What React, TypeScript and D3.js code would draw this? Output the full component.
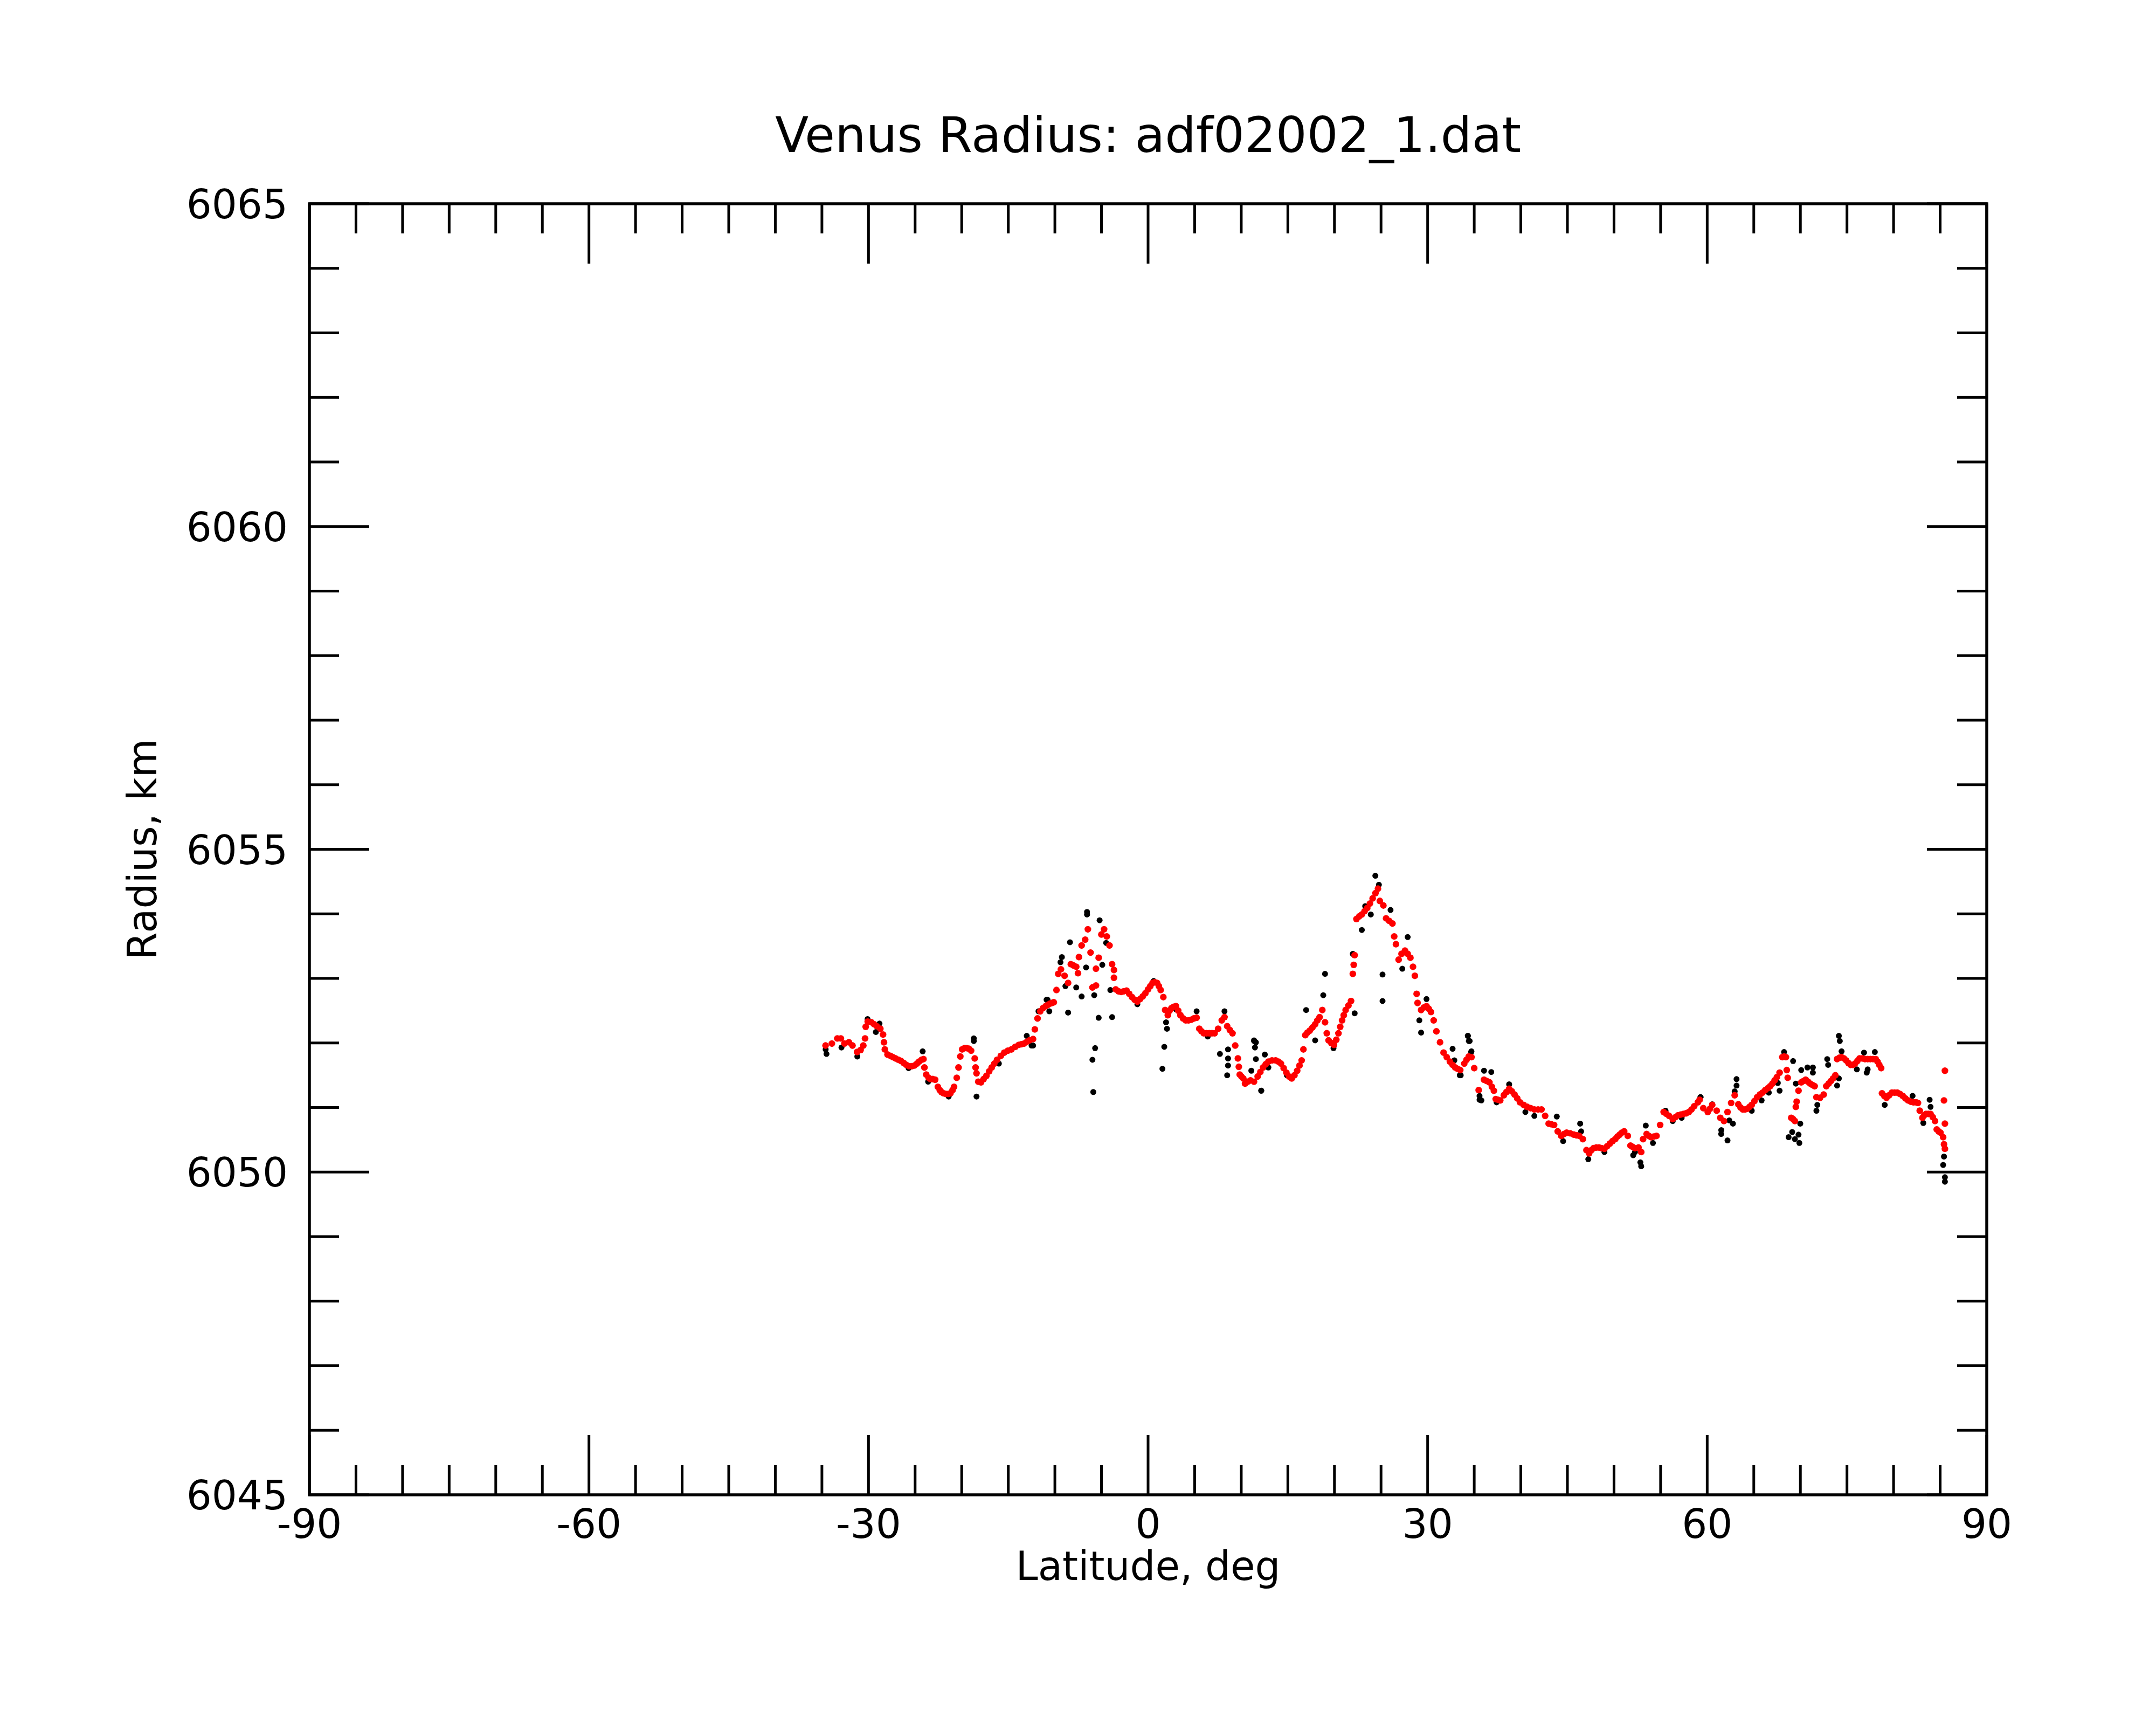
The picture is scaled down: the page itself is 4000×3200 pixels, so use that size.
import React from "react";
import * as d3 from "d3";

const TITLE = "Venus Radius: adf02002_1.dat";
const X_LABEL = "Latitude, deg";
const Y_LABEL = "Radius, km";
const X_DOMAIN = [-90, 90];
const Y_DOMAIN = [6045, 6065];
const X_MAJOR = [-90, -60, -30, 0, 30, 60, 90];
const Y_MAJOR = [6045, 6050, 6055, 6060, 6065];
const X_MINOR_STEP = 5;
const Y_MINOR_STEP = 1;

// smoothed radius (red)
const smoothed: [number, number][] = [
  [-34.61,6051.96],[-33.93,6051.99],[-33.35,6052.07],[-32.97,6052.07],[-32.58,6051.99],[-32.10,6052.01],[-31.72,6051.96],[-31.23,6051.86],[-30.85,6051.89],[-30.56,6051.96],[-30.37,6052.07],[-30.30,6052.25],[-30.08,6052.33],[-29.69,6052.32],[-29.40,6052.29],[-29.12,6052.26],[-28.73,6052.22],[-28.44,6052.13],[-28.34,6052.01],[-28.25,6051.90],[-27.96,6051.82],[-27.65,6051.80],[-27.38,6051.78],[-27.10,6051.76],[-26.80,6051.74],[-26.50,6051.72],[-26.22,6051.69],[-25.95,6051.66],[-25.65,6051.64],[-25.35,6051.64],[-25.07,6051.65],[-24.80,6051.68],[-24.58,6051.71],[-24.30,6051.74],[-24.10,6051.75],[-24.00,6051.62],[-23.81,6051.51],[-23.55,6051.46],[-23.33,6051.44],[-23.10,6051.44],[-22.85,6051.43],[-22.56,6051.32],[-22.35,6051.27],[-22.17,6051.24],[-21.95,6051.22],[-21.69,6051.21],[-21.45,6051.21],[-21.21,6051.22],[-20.98,6051.27],[-20.82,6051.32],[-20.53,6051.46],[-20.34,6051.62],[-20.15,6051.79],[-19.95,6051.90],[-19.70,6051.92],[-19.47,6051.92],[-19.22,6051.91],[-18.99,6051.88],[-18.60,6051.76],[-18.51,6051.62],[-18.41,6051.53],[-18.22,6051.40],[-17.93,6051.39],[-17.65,6051.44],[-17.35,6051.49],[-17.05,6051.56],[-16.78,6051.62],[-16.50,6051.68],[-16.20,6051.74],[-15.80,6051.80],[-15.43,6051.85],[-15.05,6051.88],[-14.66,6051.90],[-14.25,6051.94],[-13.88,6051.97],[-13.60,6051.98],[-13.31,6051.99],[-13.00,6052.02],[-12.73,6052.04],[-12.34,6052.06],[-12.15,6052.21],[-11.86,6052.38],[-11.57,6052.49],[-11.28,6052.54],[-10.99,6052.57],[-10.75,6052.59],[-10.51,6052.61],[-10.30,6052.62],
  [-10.12,6052.63],[-9.83,6052.82],[-9.64,6053.07],[-9.35,6053.14],[-8.96,6053.04],[-8.58,6052.93],[-8.29,6053.22],[-8.00,6053.20],[-7.71,6053.18],[-7.52,6053.08],[-7.42,6053.33],[-7.13,6053.51],[-6.75,6053.60],[-6.46,6053.76],[-6.17,6053.40],[-5.97,6052.86],[-5.59,6052.89],[-5.59,6053.15],[-5.30,6053.32],[-5.01,6053.68],[-4.72,6053.76],[-4.43,6053.65],[-4.14,6053.51],[-3.86,6053.22],[-3.66,6053.13],[-3.66,6053.01],[-3.47,6052.83],[-3.18,6052.80],[-2.89,6052.79],[-2.60,6052.80],[-2.31,6052.81],[-2.02,6052.76],[-1.73,6052.71],[-1.44,6052.67],[-1.15,6052.64],[-0.86,6052.68],[-0.58,6052.72],[-0.29,6052.77],[0.00,6052.83],[0.24,6052.88],[0.48,6052.93],[0.72,6052.94],[0.97,6052.93],[1.16,6052.88],[1.35,6052.82],[1.64,6052.71],[1.83,6052.51],[2.12,6052.43],[2.31,6052.50],[2.51,6052.54],[2.75,6052.56],[2.99,6052.57],[3.23,6052.50],[3.47,6052.43],[3.76,6052.38],[4.05,6052.35],[4.34,6052.35],[4.63,6052.36],[4.92,6052.38],[5.21,6052.39],[5.50,6052.22],[5.74,6052.18],[5.98,6052.15],[6.27,6052.15],[6.56,6052.15],[6.85,6052.15],[7.14,6052.15],[7.52,6052.22],[7.91,6052.35],[8.20,6052.40],[8.49,6052.26],[8.78,6052.20],[9.06,6052.15],[9.35,6051.96],[9.64,6051.76],[9.74,6051.63],[9.84,6051.51],
  [10.02,6051.48],[10.22,6051.45],[10.41,6051.37],[10.70,6051.40],[10.99,6051.42],[11.37,6051.40],[11.76,6051.48],[12.05,6051.55],[12.34,6051.62],[12.62,6051.67],[12.91,6051.71],[13.30,6051.73],[13.69,6051.73],[13.98,6051.71],[14.26,6051.68],[14.55,6051.61],[14.84,6051.54],[15.13,6051.48],[15.42,6051.45],[15.71,6051.50],[16.00,6051.57],[16.25,6051.65],[16.48,6051.73],[16.67,6051.90],[16.87,6052.12],[17.10,6052.16],[17.35,6052.19],[17.64,6052.24],[17.93,6052.29],[18.17,6052.35],[18.41,6052.40],[18.70,6052.51],[18.99,6052.32],[19.18,6052.15],[19.37,6052.04],[19.66,6052.00],[19.95,6051.97],[20.20,6052.05],[20.43,6052.15],[20.62,6052.25],[20.82,6052.35],[21.00,6052.43],[21.20,6052.51],[21.50,6052.58],[21.78,6052.65],[21.97,6053.07],[22.07,6053.21],[22.17,6053.36],[22.36,6053.92],[22.65,6053.96],[22.94,6053.99],[23.23,6054.04],[23.52,6054.09],[23.81,6054.16],[24.10,6054.24],[24.40,6054.32],[24.67,6054.39],[24.87,6054.20],[25.25,6054.13],[25.54,6053.93],[25.88,6053.89],[26.22,6053.85],[26.41,6053.65],[26.60,6053.53],[26.89,6053.29],[27.20,6053.38],[27.57,6053.43],[27.86,6053.38],[28.15,6053.32],[28.43,6053.18],[28.63,6053.04],[28.82,6052.76],[28.92,6052.62],[29.30,6052.51],[29.60,6052.55],[29.88,6052.57],[30.12,6052.53],[30.36,6052.48],[30.65,6052.35],[30.94,6052.18],[31.33,6052.01],[31.71,6051.85],[32.05,6051.78],[32.39,6051.71],[32.68,6051.66],[32.96,6051.62],[33.20,6051.60],
  [33.50,6051.58],[33.93,6051.68],[34.18,6051.74],[34.42,6051.79],[34.71,6051.78],[35.00,6051.61],[35.48,6051.27],[36.05,6051.43],[36.34,6051.41],[36.63,6051.39],[36.90,6051.32],[37.11,6051.26],[37.31,6051.13],[37.55,6051.12],[37.79,6051.11],[38.18,6051.19],[38.45,6051.24],[38.75,6051.29],[39.04,6051.25],[39.33,6051.20],[39.62,6051.14],[39.91,6051.08],[40.30,6051.04],[40.68,6051.01],[41.05,6050.99],[41.45,6050.97],[41.85,6050.97],[42.22,6050.97],[42.61,6050.87],[42.99,6050.75],[43.28,6050.74],[43.57,6050.73],[43.96,6050.63],[44.34,6050.56],[44.63,6050.59],[44.92,6050.61],[45.30,6050.60],[45.69,6050.58],[45.98,6050.57],[46.27,6050.56],[46.66,6050.51],[47.04,6050.34],[47.33,6050.29],[47.57,6050.34],[47.81,6050.37],[48.10,6050.38],[48.39,6050.38],[48.68,6050.37],[48.97,6050.36],[49.26,6050.40],[49.55,6050.44],[49.84,6050.48],[50.13,6050.51],[50.37,6050.55],[50.61,6050.58],[50.85,6050.61],[51.09,6050.63],[51.48,6050.56],[51.77,6050.41],[52.00,6050.39],[52.25,6050.37],[52.63,6050.38],[52.92,6050.31],[53.12,6050.51],[53.50,6050.59],[53.74,6050.56],[53.98,6050.54],[54.27,6050.55],[54.56,6050.56],[54.95,6050.73],[55.33,6050.93],[55.62,6050.90],[55.91,6050.87],[56.30,6050.82],[56.59,6050.85],[56.88,6050.88],[57.16,6050.89],[57.45,6050.90],[57.74,6050.91],[58.03,6050.93],[58.32,6050.97],[58.61,6051.02],[59.00,6051.08],
  [59.19,6051.12],[59.58,6050.99],[60.06,6050.93],[60.30,6050.98],[60.54,6051.04],[61.02,6050.95],[61.41,6050.84],[61.80,6050.79],[62.18,6050.93],[62.57,6051.07],[62.95,6051.19],[63.34,6051.05],[63.58,6051.00],[63.82,6050.97],[64.06,6050.97],[64.30,6050.98],[64.54,6051.01],[64.78,6051.04],[65.07,6051.10],[65.36,6051.16],[65.65,6051.20],[65.94,6051.23],[66.23,6051.27],[66.52,6051.30],[66.76,6051.33],[67.00,6051.37],[67.24,6051.42],[67.48,6051.47],[67.77,6051.54],[68.06,6051.78],[68.25,6051.79],[68.45,6051.78],[68.54,6051.58],[68.64,6051.46],[69.02,6050.84],[69.22,6050.82],[69.41,6050.79],[69.51,6051.01],[69.60,6051.09],[69.80,6051.26],[70.09,6051.39],[70.33,6051.41],[70.57,6051.43],[70.81,6051.40],[71.05,6051.37],[71.29,6051.35],[71.53,6051.33],[71.72,6051.16],[72.11,6051.15],[72.50,6051.20],[72.78,6051.33],[73.03,6051.37],[73.27,6051.41],[73.51,6051.45],[73.75,6051.50],[73.94,6051.75],[74.18,6051.77],[74.42,6051.78],[74.67,6051.76],[74.91,6051.73],[75.15,6051.69],[75.39,6051.66],[75.63,6051.66],[75.87,6051.68],[76.11,6051.72],[76.35,6051.76],[76.64,6051.76],[76.93,6051.75],[77.22,6051.75],[77.51,6051.75],[77.80,6051.75],[78.09,6051.75],[78.28,6051.71],[78.47,6051.66],[78.67,6051.61],[78.76,6051.22],[79.00,6051.18],[79.24,6051.15],[79.53,6051.19],[79.82,6051.23],[80.11,6051.23],[80.40,6051.23],[80.69,6051.21],[80.98,6051.18],[81.27,6051.14],[81.56,6051.11],[81.85,6051.09],[82.13,6051.08],[82.40,6051.08],[82.62,6051.07],[82.81,6050.95],[83.10,6050.84],[83.29,6050.88],[83.48,6050.90],[83.72,6050.90],[83.97,6050.90],[84.21,6050.85],[84.45,6050.79],[84.64,6050.66],[84.84,6050.63],[85.03,6050.61],[85.32,6050.54],[85.41,6050.43],[85.51,6050.36],[85.51,6051.57],[85.41,6051.11],[85.51,6050.75],
];

// raw radius samples (black)
const raw: [number, number][] = [
  [-34.51,6051.83],[-34.60,6051.90],[-32.90,6051.93],[-31.20,6051.79],[-30.10,6052.37],[-29.21,6052.17],[-28.82,6052.30],[-25.70,6051.61],[-24.19,6051.87],[-23.60,6051.40],[-21.40,6051.17],[-18.70,6052.07],[-18.70,6052.03],[-18.41,6051.17],[-16.01,6051.68],[-13.02,6052.11],[-12.34,6051.96],[-11.76,6052.49],[-10.89,6052.67],[-10.60,6052.49],
  [-12.50,6051.96],[-10.79,6052.67],[-9.40,6053.25],[-9.25,6053.33],[-8.87,6052.88],[-8.58,6052.47],[-8.38,6053.56],[-7.71,6052.86],[-7.13,6052.72],[-6.65,6053.17],[-6.55,6054.03],[-6.55,6053.99],[-5.97,6051.74],[-5.88,6051.24],[-5.78,6052.74],[-5.68,6051.92],[-5.30,6052.39],[-5.20,6053.90],[-4.91,6053.21],[-4.50,6053.55],[-4.05,6052.82],[-3.86,6052.40],[-1.15,6052.60],[0.60,6052.96],[1.54,6051.60],[1.74,6051.94],[1.93,6052.32],[2.03,6052.22],[3.00,6052.52],[5.21,6052.49],[6.40,6052.10],[7.71,6051.83],[8.20,6052.49],[8.49,6051.50],[8.58,6051.90],[8.58,6051.76],[8.58,6051.65],[11.38,6052.03],[11.47,6051.93],[11.57,6051.75],[12.15,6051.26],[12.53,6051.82],
  [11.08,6051.57],[11.37,6052.04],[11.57,6052.01],[12.14,6051.26],[12.91,6051.62],[14.90,6051.50],[16.96,6052.51],[17.93,6052.04],[18.80,6052.74],[18.99,6053.07],[19.90,6051.92],[21.97,6053.38],[22.17,6052.46],[22.94,6053.75],[23.30,6054.12],[23.90,6053.99],[24.39,6054.59],[24.77,6054.45],[25.16,6053.06],[25.16,6052.65],[26.02,6054.06],[27.28,6053.15],[27.86,6053.64],[29.11,6052.35],[29.30,6052.16],[29.88,6052.68],[32.68,6051.91],[32.87,6051.73],[33.45,6051.50],[34.31,6052.11],[34.51,6052.03],[34.70,6051.87],[35.57,6051.12],
  [33.55,6051.50],[34.32,6052.11],[34.42,6052.03],[34.67,6051.86],[35.57,6051.18],[35.77,6051.11],[36.05,6051.57],[36.83,6051.55],[37.40,6051.08],[38.75,6051.36],[40.49,6050.93],[41.45,6050.87],[43.86,6050.86],[44.54,6050.48],[46.37,6050.75],[46.47,6050.63],[47.24,6050.20],[48.97,6050.31],[52.06,6050.26],[52.25,6050.31],[52.83,6050.15],[52.92,6050.09],[53.41,6050.72],[54.18,6050.45],[55.53,6050.95],[56.30,6050.79],[57.26,6050.84],[59.28,6051.16],[61.50,6050.59],
  [59.29,6051.16],[60.54,6051.05],[61.51,6050.65],[62.18,6050.49],[62.37,6050.80],[62.76,6050.75],[62.95,6051.25],[63.15,6051.44],[63.15,6051.34],[64.78,6050.95],[65.84,6051.11],[66.61,6051.23],[67.58,6051.38],[67.77,6051.26],[68.25,6051.86],[68.74,6050.54],[69.12,6050.62],[69.22,6051.72],[69.41,6050.51],[69.51,6051.37],[69.80,6050.58],[69.89,6050.45],[69.99,6050.75],[70.09,6051.58],[70.76,6051.62],[71.34,6051.62],[71.34,6051.54],[71.72,6050.95],[71.82,6051.04],[72.88,6051.75],[72.98,6051.66],[73.94,6051.34],[74.13,6051.45],[74.13,6052.11],[74.23,6052.03],[74.42,6051.87],[76.06,6051.59],[76.83,6051.85],[77.12,6051.54],[77.22,6051.59],[77.99,6051.86],[79.05,6051.04],[82.04,6051.18],[83.19,6050.76],[83.87,6051.12],[83.97,6051.01],[85.32,6050.11],[85.41,6050.24],[85.51,6049.92],[85.51,6049.85],
];

const W = 4000;
const H = 3200;
const M = { left: 574, right: 3686, top: 378, bottom: 2773 };
const FONT = "DejaVu Sans";

export default function App() {
  const x = d3.scaleLinear().domain(X_DOMAIN).range([M.left, M.right]);
  const y = d3.scaleLinear().domain(Y_DOMAIN).range([M.bottom, M.top]);
  const xMinor = d3.range(X_DOMAIN[0], X_DOMAIN[1] + 0.001, X_MINOR_STEP).filter((v) => !X_MAJOR.includes(v));
  const yMinor = d3.range(Y_DOMAIN[0], Y_DOMAIN[1] + 0.001, Y_MINOR_STEP).filter((v) => !Y_MAJOR.includes(v));
  const majorLen = 111;
  const minorLen = 55;
  const tickW = 5;
  const tickFont = 74;

  return (
    <svg
      width={W}
      height={H}
      viewBox={`0 0 ${W} ${H}`}
      style={{ position: "absolute", left: 0, top: 0, background: "#fff" }}
      fontFamily={FONT}
    >
      <rect x={0} y={0} width={W} height={H} fill="#fff" />
      <text x={(M.left + M.right) / 2} y={282} fontSize={91} textAnchor="middle" fill="#000">
        {TITLE}
      </text>

      {/* data: raw first, smoothed on top */}
      <g>
        {raw.map(([lat, r], i) => (
          <circle key={"b" + i} cx={x(lat)} cy={y(r)} r={5.5} fill="#000" />
        ))}
      </g>
      <g>
        {smoothed.map(([lat, r], i) => (
          <circle key={"r" + i} cx={x(lat)} cy={y(r)} r={6.2} fill="#ff0000" />
        ))}
      </g>

      {/* ticks */}
      <g stroke="#000" strokeWidth={tickW}>
        {X_MAJOR.map((v) => (
          <g key={"xM" + v}>
            <line x1={x(v)} x2={x(v)} y1={M.bottom} y2={M.bottom - majorLen} />
            <line x1={x(v)} x2={x(v)} y1={M.top} y2={M.top + majorLen} />
          </g>
        ))}
        {xMinor.map((v) => (
          <g key={"xm" + v}>
            <line x1={x(v)} x2={x(v)} y1={M.bottom} y2={M.bottom - minorLen} />
            <line x1={x(v)} x2={x(v)} y1={M.top} y2={M.top + minorLen} />
          </g>
        ))}
        {Y_MAJOR.map((v) => (
          <g key={"yM" + v}>
            <line x1={M.left} x2={M.left + majorLen} y1={y(v)} y2={y(v)} />
            <line x1={M.right} x2={M.right - majorLen} y1={y(v)} y2={y(v)} />
          </g>
        ))}
        {yMinor.map((v) => (
          <g key={"ym" + v}>
            <line x1={M.left} x2={M.left + minorLen} y1={y(v)} y2={y(v)} />
            <line x1={M.right} x2={M.right - minorLen} y1={y(v)} y2={y(v)} />
          </g>
        ))}
      </g>
      <rect
        x={M.left}
        y={M.top}
        width={M.right - M.left}
        height={M.bottom - M.top}
        fill="none"
        stroke="#000"
        strokeWidth={5.5}
      />

      {/* tick labels */}
      <g fontSize={tickFont} fill="#000">
        {X_MAJOR.map((v) => (
          <text key={"xl" + v} x={x(v)} y={M.bottom + 80} textAnchor="middle">
            {String(v)}
          </text>
        ))}
        {Y_MAJOR.map((v) => (
          <text key={"yl" + v} x={M.left - 40} y={y(v) + 27} textAnchor="end">
            {String(v)}
          </text>
        ))}
      </g>

      <text x={(M.left + M.right) / 2} y={2931} fontSize={74} textAnchor="middle" fill="#000">
        {X_LABEL}
      </text>
      <text
        transform={`translate(290, ${(M.top + M.bottom) / 2}) rotate(-90)`}
        fontSize={74}
        textAnchor="middle"
        fill="#000"
      >
        {Y_LABEL}
      </text>
    </svg>
  );
}
